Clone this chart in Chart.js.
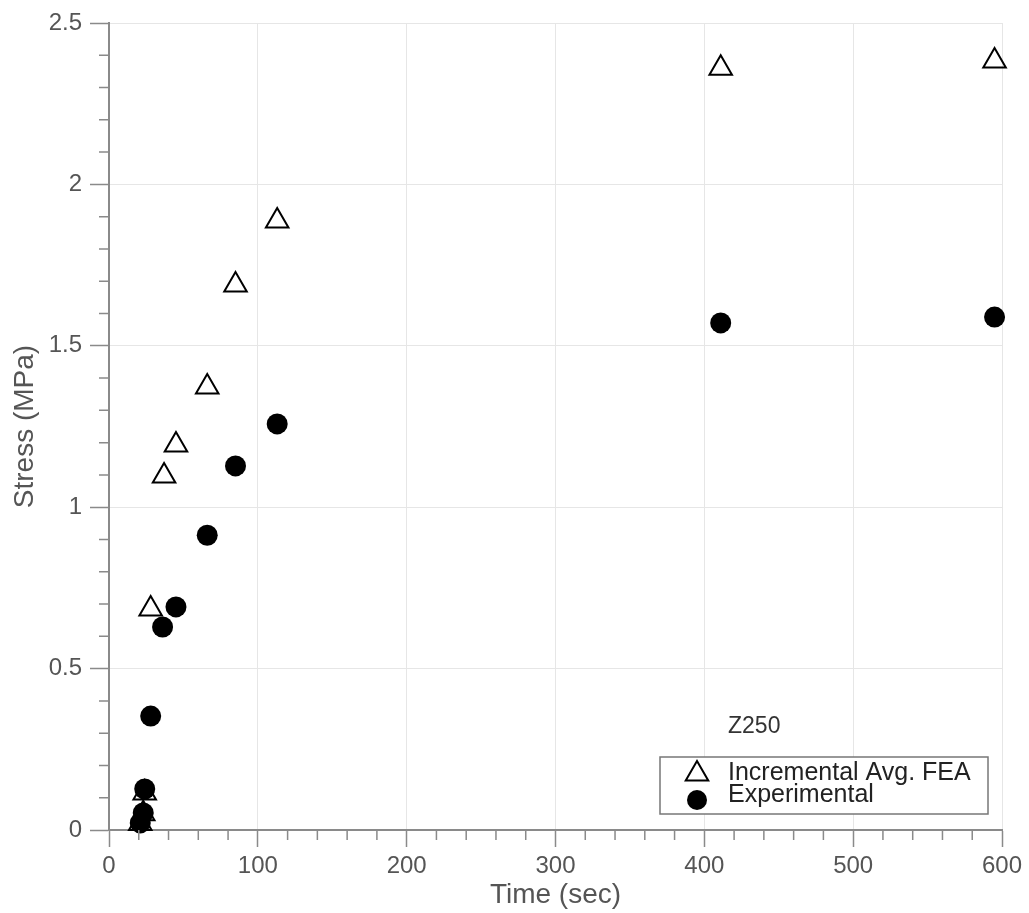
<!DOCTYPE html>
<html>
<head>
<meta charset="utf-8">
<script src="https://cdn.jsdelivr.net/npm/chart.js@4.4.1/dist/chart.umd.min.js"></script>
<style>
  html, body { margin: 0; padding: 0; background: #fff; }
  #wrap { width: 1029px; height: 913px; }
</style>
</head>
<body>
<div id="wrap"><canvas id="c" width="1029" height="913"></canvas></div>
<script>
// ---- Data ----
const feaTime   = [21, 23, 24, 28, 37, 45, 66, 85, 113, 411, 595];
const feaStress = [0.02, 0.05, 0.115, 0.685, 1.097, 1.193, 1.372, 1.688, 1.887, 2.36, 2.382];
const expTime   = [21, 23, 24, 28, 36, 45, 66, 85, 113, 411, 595];
const expStress = [0.022, 0.053, 0.127, 0.353, 0.629, 0.691, 0.913, 1.128, 1.258, 1.571, 1.589];
const seriesNames = ['Incremental Avg. FEA', 'Experimental'];
const xTickLabels = ['0', '100', '200', '300', '400', '500', '600'];
const yTickLabels = ['0', '0.5', '1', '1.5', '2', '2.5'];
const annotationText = 'Z250';
const xTitle = 'Time (sec)';
const yTitle = 'Stress (MPa)';

const FONT = '"Liberation Sans", Arial, Helvetica, sans-serif';
const AXIS_COLOR = '#8a8a8a';
const GRID_COLOR = '#e6e6e6';
const LABEL_COLOR = '#555555';

const toPts = (xs, ys) => xs.map((v, i) => ({ x: v, y: ys[i] }));

const extras = {
  id: 'extras',
  afterDraw(chart) {
    const { ctx, scales: { x, y }, chartArea: ca } = chart;
    ctx.save();
    // minor ticks
    ctx.strokeStyle = AXIS_COLOR;
    ctx.lineWidth = 1.5;
    ctx.beginPath();
    for (let v = 0; v <= 600; v += 20) {
      if (v % 100 === 0) continue;
      const px = x.getPixelForValue(v);
      ctx.moveTo(px, ca.bottom); ctx.lineTo(px, ca.bottom + 10);
    }
    for (let i = 0; i <= 25; i++) {
      if (i % 5 === 0) continue;
      const py = y.getPixelForValue(i / 10);
      ctx.moveTo(ca.left - 10, py); ctx.lineTo(ca.left, py);
    }
    ctx.stroke();

    // annotation label
    ctx.fillStyle = '#333';
    ctx.font = '23px ' + FONT;
    ctx.textAlign = 'left';
    ctx.textBaseline = 'middle';
    ctx.fillText(annotationText, ca.right - 274, ca.bottom - 103);

    // legend box
    const bx = ca.right - 342, by = ca.bottom - 73, bw = 328, bh = 57;
    ctx.fillStyle = '#fff';
    ctx.fillRect(bx, by, bw, bh);
    ctx.strokeStyle = '#777';
    ctx.lineWidth = 1.5;
    ctx.strokeRect(bx, by, bw, bh);

    const mx = bx + 37;
    ctx.strokeStyle = '#000'; ctx.lineWidth = 2;
    ctx.fillStyle = 'rgba(0,0,0,0)';
    Chart.helpers.drawPoint(ctx, {
      pointStyle: 'triangle', radius: 13, borderWidth: 2, rotation: 0
    }, mx, by + 17);
    ctx.beginPath();
    ctx.fillStyle = '#000';
    ctx.arc(mx, by + 43, 10, 0, Math.PI * 2);
    ctx.fill();

    ctx.fillStyle = '#222';
    ctx.font = '25px ' + FONT;
    ctx.textBaseline = 'middle';
    ctx.fillText(seriesNames[0], bx + 68, by + 16);
    ctx.fillText(seriesNames[1], bx + 68, by + 38);
    ctx.restore();
  }
};

new Chart(document.getElementById('c'), {
  type: 'scatter',
  data: {
    datasets: [
      {
        label: seriesNames[0],
        data: toPts(feaTime, feaStress),
        pointStyle: 'triangle',
        pointRadius: 13,
        pointHoverRadius: 13,
        borderColor: '#000',
        backgroundColor: 'rgba(255,255,255,0)',
        borderWidth: 2,
        order: 1,
        clip: false
      },
      {
        label: seriesNames[1],
        data: toPts(expTime, expStress),
        pointStyle: 'circle',
        pointRadius: 10.5,
        pointHoverRadius: 10.5,
        borderColor: '#000',
        backgroundColor: '#000',
        borderWidth: 0,
        order: 0,
        clip: false
      }
    ]
  },
  options: {
    responsive: false,
    animation: false,
    events: [],
    layout: { padding: { top: 23, right: 27, left: 0, bottom: 0 } },
    plugins: { legend: { display: false }, tooltip: { enabled: false } },
    scales: {
      x: {
        type: 'linear',
        min: 0, max: 600,
        afterFit: (s) => { s.height = 83; },
        ticks: {
          stepSize: 100, color: LABEL_COLOR, font: { family: FONT, size: 24 }, padding: 5, maxRotation: 0,
          callback: (v, i) => xTickLabels[i]
        },
        grid: { color: GRID_COLOR, lineWidth: 1, tickLength: 17, tickColor: AXIS_COLOR, tickWidth: 1.5 },
        border: { color: AXIS_COLOR, width: 2 },
        title: { display: true, text: xTitle, color: LABEL_COLOR, font: { family: FONT, size: 28 }, padding: { top: 0, bottom: 1 } }
      },
      y: {
        type: 'linear',
        min: 0, max: 2.5,
        afterFit: (s) => { s.width = 109; },
        ticks: {
          stepSize: 0.5, color: LABEL_COLOR, font: { family: FONT, size: 24 }, padding: 8,
          callback: (v, i) => yTickLabels[i]
        },
        grid: { color: GRID_COLOR, lineWidth: 1, tickLength: 19, tickColor: AXIS_COLOR, tickWidth: 1.5 },
        border: { color: AXIS_COLOR, width: 2 },
        title: { display: true, text: yTitle, color: LABEL_COLOR, font: { family: FONT, size: 28 }, padding: { top: 8, bottom: 0 } }
      }
    }
  },
  plugins: [extras]
});
</script>
</body>
</html>
